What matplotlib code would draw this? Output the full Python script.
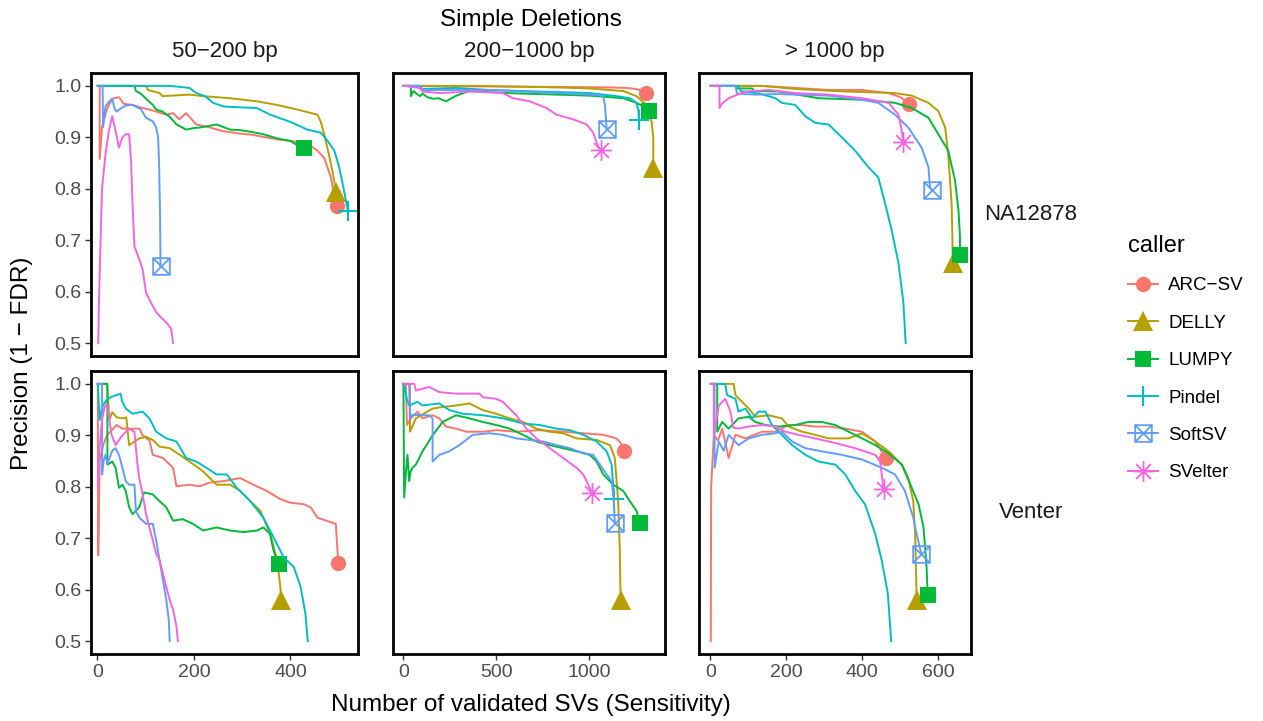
import matplotlib
matplotlib.use("Agg")
import matplotlib.pyplot as plt
from matplotlib.path import Path
from matplotlib.lines import Line2D

# LABELS --------------------------------------------------
callers = ["ARC\u2212SV", "DELLY", "LUMPY", "Pindel", "SoftSV", "SVelter"]
colors = ["#F8766D", "#B79F00", "#00BA38", "#00BFC4", "#619CFF", "#F564E3"]
size_bins = ["50\u2212200 bp", "200\u22121000 bp", "> 1000 bp"]
samples = ["NA12878", "Venter"]
x_ticks = [[0, 200, 400], [0, 500, 1000], [0, 200, 400, 600]]
y_ticks = [0.5, 0.6, 0.7, 0.8, 0.9, 1.0]

# DATA: NA12878, 50-200 bp ---------------------------------
na1_arc_x = [1, 5, 5, 10, 20, 31, 45, 55, 73, 90, 108, 122, 143, 157, 170, 184, 205, 230, 260, 290, 320, 350, 380, 400, 420, 440, 456, 470, 484, 490, 496]
na1_arc_y = [1.0, 1.0, 0.858, 0.92, 0.955, 0.975, 0.978, 0.965, 0.963, 0.958, 0.954, 0.95, 0.944, 0.947, 0.935, 0.947, 0.925, 0.92, 0.912, 0.908, 0.905, 0.9, 0.895, 0.893, 0.89, 0.885, 0.874, 0.86, 0.822, 0.79, 0.766]
na1_delly_x = [1, 101, 105, 129, 135, 191, 219, 275, 330, 372, 414, 456, 463, 470, 477, 484, 490, 494]
na1_delly_y = [1.0, 1.0, 0.992, 0.986, 0.98, 0.983, 0.98, 0.976, 0.97, 0.963, 0.954, 0.944, 0.93, 0.906, 0.878, 0.848, 0.82, 0.794]
na1_lumpy_x = [1, 77, 80, 90, 100, 115, 122, 135, 150, 164, 184, 200, 212, 230, 247, 275, 295, 310, 344, 372, 400, 415, 428]
na1_lumpy_y = [1.0, 1.0, 0.99, 0.985, 0.976, 0.963, 0.954, 0.95, 0.94, 0.925, 0.915, 0.918, 0.919, 0.922, 0.925, 0.915, 0.914, 0.912, 0.906, 0.898, 0.893, 0.884, 0.879]
na1_pindel_x = [1, 150, 191, 205, 223, 240, 261, 300, 330, 358, 400, 435, 463, 477, 491, 501, 511, 519]
na1_pindel_y = [1.0, 1.0, 0.996, 0.986, 0.98, 0.967, 0.96, 0.958, 0.957, 0.944, 0.93, 0.915, 0.909, 0.893, 0.874, 0.842, 0.797, 0.756]
na1_softsv_x = [1, 11, 12, 17, 25, 31, 36, 40, 50, 60, 73, 85, 90, 101, 115, 122, 126, 128, 130, 131]
na1_softsv_y = [1.0, 1.0, 0.92, 0.96, 0.97, 0.975, 0.955, 0.95, 0.957, 0.962, 0.963, 0.957, 0.955, 0.938, 0.931, 0.919, 0.9, 0.85, 0.75, 0.649]
na1_svelter_x = [2, 3.5, 7, 10, 17, 24, 31, 38, 45, 52, 59, 66, 70, 73, 77, 87, 94, 101, 111, 122, 132, 143, 153, 157]
na1_svelter_y = [0.5, 0.58, 0.707, 0.803, 0.867, 0.912, 0.941, 0.912, 0.88, 0.9, 0.906, 0.906, 0.854, 0.771, 0.688, 0.663, 0.643, 0.598, 0.579, 0.56, 0.55, 0.54, 0.528, 0.5]

# DATA: NA12878, 200-1000 bp -------------------------------
na2_arc_x = [1, 400, 800, 1100, 1200, 1250, 1290, 1306]
na2_arc_y = [1.0, 0.999, 0.998, 0.997, 0.996, 0.994, 0.99, 0.987]
na2_delly_x = [1, 410, 824, 1000, 1183, 1255, 1309, 1336, 1345, 1345]
na2_delly_y = [1.0, 1.0, 0.997, 0.995, 0.99, 0.98, 0.963, 0.93, 0.9, 0.84]
na2_lumpy_x = [1, 41, 41, 55, 68, 90, 104, 130, 160, 190, 230, 280, 338, 356, 554, 824, 1004, 1183, 1255, 1300, 1320]
na2_lumpy_y = [1.0, 1.0, 0.98, 0.99, 0.986, 0.98, 0.985, 0.978, 0.975, 0.976, 0.97, 0.98, 0.988, 0.99, 0.986, 0.983, 0.981, 0.976, 0.967, 0.958, 0.952]
na2_pindel_x = [1, 86, 95, 284, 464, 644, 824, 1004, 1147, 1219, 1255, 1265, 1268]
na2_pindel_y = [1.0, 1.0, 0.994, 0.996, 0.992, 0.99, 0.988, 0.986, 0.98, 0.976, 0.967, 0.951, 0.933]
na2_softsv_x = [1, 95, 104, 464, 644, 824, 1004, 1075, 1085, 1094]
na2_softsv_y = [1.0, 1.0, 0.992, 0.992, 0.989, 0.986, 0.983, 0.981, 0.963, 0.917]
na2_svelter_x = [1, 86, 104, 194, 374, 536, 590, 680, 770, 824, 914, 986, 1022, 1050, 1063]
na2_svelter_y = [1.0, 0.996, 0.989, 0.986, 0.989, 0.986, 0.976, 0.97, 0.957, 0.944, 0.935, 0.925, 0.909, 0.88, 0.875]

# DATA: NA12878, > 1000 bp ---------------------------------
na3_arc_x = [1, 136, 311, 399, 469, 500, 523]
na3_arc_y = [1.0, 1.0, 0.992, 0.992, 0.986, 0.978, 0.965]
na3_delly_x = [1, 136, 223, 355, 486, 530, 574, 600, 618, 626, 635, 637, 638]
na3_delly_y = [1.0, 1.0, 0.994, 0.989, 0.986, 0.981, 0.967, 0.951, 0.919, 0.867, 0.771, 0.707, 0.655]
na3_lumpy_x = [1, 66, 70, 110, 115, 180, 285, 399, 486, 530, 574, 600, 626, 644, 653, 657, 657]
na3_lumpy_y = [1.0, 1.0, 0.995, 0.995, 0.99, 0.989, 0.976, 0.973, 0.967, 0.957, 0.938, 0.906, 0.874, 0.816, 0.758, 0.707, 0.672]
na3_pindel_x = [1, 74, 80, 130, 171, 188, 223, 250, 276, 311, 346, 381, 416, 442, 460, 477, 495, 508, 514]
na3_pindel_y = [1.0, 1.0, 0.99, 0.985, 0.976, 0.967, 0.963, 0.941, 0.928, 0.925, 0.9, 0.874, 0.842, 0.822, 0.771, 0.72, 0.656, 0.579, 0.5]
na3_softsv_x = [1, 66, 70, 118, 180, 311, 399, 442, 486, 521, 556, 574, 578, 583]
na3_softsv_y = [1.0, 1.0, 0.985, 0.983, 0.984, 0.981, 0.973, 0.967, 0.944, 0.919, 0.88, 0.842, 0.803, 0.797]
na3_svelter_x = [1, 24, 24, 30, 48, 92, 154, 223, 311, 399, 469, 495, 504, 508]
na3_svelter_y = [1.0, 1.0, 0.957, 0.965, 0.976, 0.989, 0.992, 0.986, 0.983, 0.976, 0.967, 0.944, 0.912, 0.89]

# DATA: Venter, 50-200 bp ----------------------------------
ve1_arc_x = [1, 2, 5, 12, 20, 30, 40, 52, 73, 87, 94, 108, 115, 136, 157, 164, 191, 212, 233, 261, 296, 323, 351, 379, 400, 428, 442, 456, 484, 494, 498, 499]
ve1_arc_y = [1.0, 0.667, 0.85, 0.88, 0.9, 0.91, 0.92, 0.913, 0.913, 0.913, 0.9, 0.89, 0.862, 0.856, 0.837, 0.801, 0.804, 0.801, 0.808, 0.811, 0.817, 0.804, 0.792, 0.776, 0.769, 0.766, 0.76, 0.74, 0.731, 0.728, 0.67, 0.652]
ve1_delly_x = [1, 20, 25, 31, 40, 52, 60, 66, 87, 101, 115, 129, 150, 171, 191, 219, 247, 275, 296, 317, 338, 358, 369, 376, 379, 381]
ve1_delly_y = [1.0, 1.0, 0.93, 0.945, 0.935, 0.933, 0.935, 0.881, 0.894, 0.897, 0.891, 0.878, 0.875, 0.862, 0.849, 0.83, 0.804, 0.804, 0.792, 0.772, 0.753, 0.708, 0.67, 0.631, 0.606, 0.58]
ve1_lumpy_x = [1, 21, 21, 31, 38, 45, 52, 59, 66, 73, 87, 97, 115, 129, 143, 157, 177, 198, 219, 247, 275, 303, 331, 344, 358, 365, 376]
ve1_lumpy_y = [1.0, 1.0, 0.843, 0.849, 0.837, 0.798, 0.804, 0.792, 0.76, 0.747, 0.76, 0.789, 0.785, 0.772, 0.76, 0.734, 0.737, 0.728, 0.715, 0.721, 0.715, 0.712, 0.715, 0.721, 0.708, 0.676, 0.649]
ve1_pindel_x = [1, 5, 10, 20, 30, 48, 52, 59, 73, 94, 108, 122, 143, 164, 184, 205, 226, 247, 268, 289, 317, 344, 365, 386, 407, 421, 431, 436]
ve1_pindel_y = [1.0, 0.93, 0.955, 0.97, 0.975, 0.981, 0.965, 0.952, 0.942, 0.946, 0.933, 0.907, 0.894, 0.888, 0.856, 0.849, 0.837, 0.824, 0.824, 0.798, 0.772, 0.74, 0.702, 0.663, 0.644, 0.606, 0.554, 0.5]
ve1_softsv_x = [1, 10, 10, 13, 17, 21, 31, 38, 45, 52, 59, 66, 77, 80, 87, 101, 115, 122, 129, 136, 143, 148, 150]
ve1_softsv_y = [1.0, 1.0, 0.824, 0.85, 0.862, 0.845, 0.87, 0.875, 0.862, 0.837, 0.811, 0.804, 0.804, 0.753, 0.74, 0.728, 0.728, 0.696, 0.657, 0.619, 0.58, 0.542, 0.5]
ve1_svelter_x = [2, 5, 10, 15, 20, 25, 30, 38, 52, 66, 77, 80, 84, 87, 94, 101, 108, 115, 122, 129, 136, 150, 157, 164, 167]
ve1_svelter_y = [0.8, 0.88, 0.93, 0.955, 0.96, 0.93, 0.9, 0.881, 0.9, 0.913, 0.907, 0.875, 0.837, 0.817, 0.785, 0.747, 0.721, 0.696, 0.67, 0.657, 0.631, 0.58, 0.561, 0.529, 0.5]

# DATA: Venter, 200-1000 bp --------------------------------
ve2_arc_x = [1, 14, 20, 41, 77, 104, 158, 194, 230, 284, 338, 428, 500, 608, 734, 860, 968, 1076, 1147, 1170, 1187]
ve2_arc_y = [1.0, 1.0, 0.92, 0.933, 0.946, 0.933, 0.939, 0.933, 0.917, 0.913, 0.907, 0.907, 0.91, 0.907, 0.91, 0.907, 0.904, 0.901, 0.894, 0.885, 0.87]
ve2_delly_x = [1, 36, 36, 68, 158, 212, 284, 356, 428, 500, 572, 644, 716, 788, 860, 932, 1040, 1112, 1138, 1156, 1165, 1169]
ve2_delly_y = [1.0, 1.0, 0.907, 0.933, 0.952, 0.955, 0.958, 0.962, 0.949, 0.942, 0.933, 0.926, 0.913, 0.907, 0.904, 0.894, 0.891, 0.881, 0.856, 0.772, 0.676, 0.58]
ve2_lumpy_x = [1, 5, 15, 23, 32, 40, 50, 68, 86, 104, 158, 212, 284, 356, 428, 500, 572, 644, 716, 788, 860, 932, 1004, 1040, 1076, 1129, 1183, 1219, 1255, 1273]
ve2_lumpy_y = [1.0, 0.779, 0.83, 0.862, 0.811, 0.83, 0.837, 0.843, 0.856, 0.869, 0.9, 0.926, 0.939, 0.933, 0.926, 0.92, 0.913, 0.901, 0.888, 0.881, 0.875, 0.869, 0.862, 0.849, 0.824, 0.804, 0.792, 0.772, 0.753, 0.729]
ve2_pindel_x = [1, 20, 32, 77, 104, 194, 248, 320, 428, 536, 644, 734, 824, 896, 968, 1040, 1094, 1121, 1129, 1133]
ve2_pindel_y = [1.0, 0.97, 0.958, 0.965, 0.958, 0.962, 0.949, 0.942, 0.939, 0.933, 0.923, 0.92, 0.913, 0.91, 0.901, 0.888, 0.869, 0.843, 0.804, 0.776]
ve2_softsv_x = [1, 32, 36, 50, 104, 140, 158, 158, 194, 248, 302, 374, 464, 536, 608, 680, 752, 824, 896, 968, 1022, 1058, 1094, 1121, 1133, 1138]
ve2_softsv_y = [1.0, 1.0, 0.933, 0.94, 0.939, 0.939, 0.933, 0.849, 0.862, 0.869, 0.881, 0.901, 0.904, 0.901, 0.894, 0.891, 0.888, 0.881, 0.875, 0.865, 0.862, 0.843, 0.824, 0.811, 0.772, 0.729]
ve2_svelter_x = [1, 59, 68, 140, 194, 284, 410, 428, 500, 536, 572, 608, 662, 716, 788, 860, 932, 968, 995, 1018]
ve2_svelter_y = [1.0, 1.0, 0.987, 0.994, 0.984, 0.981, 0.981, 0.974, 0.971, 0.965, 0.952, 0.939, 0.913, 0.894, 0.875, 0.856, 0.837, 0.824, 0.804, 0.787]

# DATA: Venter, > 1000 bp ----------------------------------
ve3_arc_x = [1, 2, 9, 20, 31, 48, 66, 92, 136, 171, 206, 241, 276, 311, 355, 399, 434, 462]
ve3_arc_y = [0.5, 0.8, 0.9, 0.89, 0.913, 0.856, 0.901, 0.894, 0.907, 0.907, 0.92, 0.92, 0.917, 0.917, 0.913, 0.907, 0.888, 0.856]
ve3_delly_x = [1, 61, 66, 101, 118, 153, 188, 206, 241, 276, 311, 364, 399, 434, 469, 504, 521, 534, 539, 541, 543]
ve3_delly_y = [1.0, 1.0, 0.978, 0.952, 0.936, 0.939, 0.933, 0.917, 0.907, 0.901, 0.894, 0.894, 0.904, 0.888, 0.869, 0.843, 0.817, 0.772, 0.708, 0.644, 0.58]
ve3_lumpy_x = [1, 18, 18, 31, 48, 74, 101, 118, 145, 180, 223, 258, 293, 329, 364, 399, 434, 469, 504, 530, 548, 561, 569, 572]
ve3_lumpy_y = [1.0, 1.0, 0.907, 0.926, 0.913, 0.933, 0.936, 0.926, 0.92, 0.917, 0.92, 0.926, 0.926, 0.92, 0.907, 0.894, 0.881, 0.865, 0.843, 0.798, 0.766, 0.721, 0.644, 0.59]
ve3_pindel_x = [1, 39, 44, 66, 74, 92, 110, 127, 145, 162, 188, 215, 250, 285, 329, 355, 381, 407, 434, 451, 467, 476]
ve3_pindel_y = [1.0, 1.0, 0.978, 0.971, 0.946, 0.952, 0.933, 0.946, 0.946, 0.92, 0.901, 0.881, 0.862, 0.849, 0.843, 0.824, 0.792, 0.766, 0.708, 0.657, 0.593, 0.5]
ve3_softsv_x = [1, 11, 11, 22, 35, 48, 74, 101, 136, 171, 188, 215, 250, 293, 346, 399, 451, 486, 512, 534, 543, 555]
ve3_softsv_y = [1.0, 1.0, 0.837, 0.888, 0.87, 0.901, 0.881, 0.894, 0.901, 0.904, 0.907, 0.888, 0.875, 0.869, 0.862, 0.853, 0.837, 0.824, 0.792, 0.74, 0.708, 0.67]
ve3_svelter_x = [1, 9, 9, 22, 39, 53, 60, 74, 101, 136, 171, 197, 232, 276, 329, 381, 434, 447, 451, 456]
ve3_svelter_y = [1.0, 1.0, 0.9, 0.958, 0.971, 0.946, 0.915, 0.913, 0.917, 0.92, 0.917, 0.907, 0.901, 0.894, 0.885, 0.875, 0.862, 0.849, 0.824, 0.795]

panels = [
    [[(na1_arc_x, na1_arc_y), (na1_delly_x, na1_delly_y), (na1_lumpy_x, na1_lumpy_y),
      (na1_pindel_x, na1_pindel_y), (na1_softsv_x, na1_softsv_y), (na1_svelter_x, na1_svelter_y)],
     [(na2_arc_x, na2_arc_y), (na2_delly_x, na2_delly_y), (na2_lumpy_x, na2_lumpy_y),
      (na2_pindel_x, na2_pindel_y), (na2_softsv_x, na2_softsv_y), (na2_svelter_x, na2_svelter_y)],
     [(na3_arc_x, na3_arc_y), (na3_delly_x, na3_delly_y), (na3_lumpy_x, na3_lumpy_y),
      (na3_pindel_x, na3_pindel_y), (na3_softsv_x, na3_softsv_y), (na3_svelter_x, na3_svelter_y)]],
    [[(ve1_arc_x, ve1_arc_y), (ve1_delly_x, ve1_delly_y), (ve1_lumpy_x, ve1_lumpy_y),
      (ve1_pindel_x, ve1_pindel_y), (ve1_softsv_x, ve1_softsv_y), (ve1_svelter_x, ve1_svelter_y)],
     [(ve2_arc_x, ve2_arc_y), (ve2_delly_x, ve2_delly_y), (ve2_lumpy_x, ve2_lumpy_y),
      (ve2_pindel_x, ve2_pindel_y), (ve2_softsv_x, ve2_softsv_y), (ve2_svelter_x, ve2_svelter_y)],
     [(ve3_arc_x, ve3_arc_y), (ve3_delly_x, ve3_delly_y), (ve3_lumpy_x, ve3_lumpy_y),
      (ve3_pindel_x, ve3_pindel_y), (ve3_softsv_x, ve3_softsv_y), (ve3_svelter_x, ve3_svelter_y)]],
]

# MARKERS -------------------------------------------------
M, L, C = Path.MOVETO, Path.LINETO, Path.CLOSEPOLY
box_x = Path([(-1, -1), (1, -1), (1, 1), (-1, 1), (-1, -1), (-1, -1), (1, 1), (-1, 1), (1, -1)],
             [M, L, L, L, C, M, L, M, L])
star = Path([(-1, 0), (1, 0), (0, -1), (0, 1), (-.71, -.71), (.71, .71), (-.71, .71), (.71, -.71)],
            [M, L, M, L, M, L, M, L])

def marker_kw(i):
    col = colors[i]
    if i == 0:
        return dict(marker="o", ms=11, mfc=col, mec=col, mew=0)
    if i == 1:
        return dict(marker="^", ms=14, mfc=col, mec=col, mew=0)
    if i == 2:
        return dict(marker="s", ms=11, mfc=col, mec=col, mew=0)
    if i == 3:
        return dict(marker="+", ms=15, mec=col, mew=1.5)
    if i == 4:
        return dict(marker=box_x, ms=12, mfc="none", mec=col, mew=1.3)
    return dict(marker=star, ms=15, mfc="none", mec=col, mew=1.3)

# FIGURE --------------------------------------------------
plt.rcParams["font.family"] = ["Liberation Sans", "DejaVu Sans"]
W, H = 1263, 721
fig = plt.figure(figsize=(W / 100, H / 100), dpi=100)

col_px = [(91, 358), (393, 665), (699, 971)]
row_px = [(73, 356), (371, 654)]
x_lims = [(-13, 540), (-55, 1408), (-30, 686)]

for r in range(2):
    for c in range(3):
        x0, x1 = col_px[c]
        y0, y1 = row_px[r]
        ax = fig.add_axes([x0 / W, 1 - y1 / H, (x1 - x0) / W, (y1 - y0) / H])
        for i in range(len(callers)):
            xs, ys = panels[r][c][i]
            ax.plot(xs, ys, color=colors[i], lw=1.4, solid_joinstyle="round")
            if ys[-1] > 0.5:
                ax.plot([xs[-1]], [ys[-1]], ls="none", **marker_kw(i))
        ax.set_xlim(x_lims[c])
        ax.set_ylim(0.475, 1.025)
        for sp in ax.spines.values():
            sp.set_linewidth(2.0)
            sp.set_color("black")
        ax.set_xticks(x_ticks[c])
        ax.set_yticks(y_ticks)
        ax.tick_params(length=4, width=1, color="#333333", labelcolor="#4D4D4D",
                       labelsize=14, pad=3)
        if r == 0:
            ax.tick_params(axis="x", length=0, labelbottom=False)
            fig.text((x0 + x1) / 2 / W, 1 - 52 / H, size_bins[c], ha="center",
                     va="center", fontsize=16, color="#1A1A1A")
        if c > 0:
            ax.tick_params(axis="y", length=0, labelleft=False)
        else:
            ax.set_yticklabels(["%.1f" % v for v in y_ticks])
    fig.text(1031 / W, 1 - (sum(row_px[r]) / 2) / H, samples[r], ha="center",
             va="center", fontsize=16, color="#1A1A1A")

fig.text(531 / W, 1 - 20 / H, "Simple Deletions", ha="center", va="center", fontsize=17.5)
fig.text(531 / W, 1 - 705 / H, "Number of validated SVs (Sensitivity)", ha="center",
         va="center", fontsize=17.5)
fig.text(22 / W, 1 - 363 / H, "Precision (1 \u2212 FDR)", ha="center", va="center",
         rotation=90, fontsize=17.5)

handles = [Line2D([], [], color=colors[i], lw=1.4, **marker_kw(i)) for i in range(6)]
fig.legend(handles, callers, loc="upper left", bbox_to_anchor=(1128 / W, 1 - 235 / H),
           frameon=False, title="caller", title_fontsize=17, fontsize=13.5,
           alignment="left", handlelength=1.6, handletextpad=0.55, labelspacing=1.08,
           borderpad=0, borderaxespad=0)

fig.savefig("out.png", dpi=100)
